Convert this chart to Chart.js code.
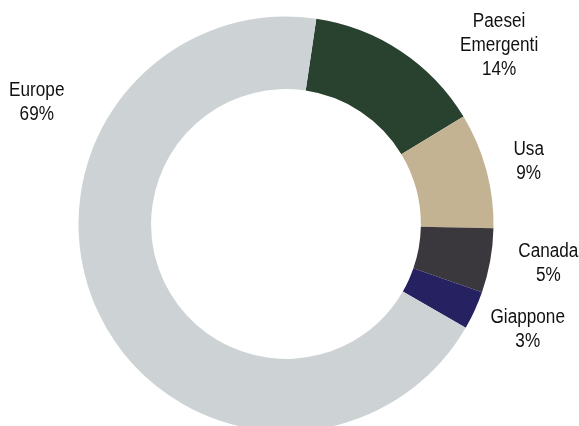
<!DOCTYPE html>
<html>
<head>
<meta charset="utf-8">
<script src="https://cdn.jsdelivr.net/npm/chart.js@4"></script>
<style>
  html, body { margin: 0; padding: 0; background: #fff; }
  #wrap { width: 579px; height: 426px; overflow: hidden; }
</style>
</head>
<body>
<div id="wrap"><canvas id="grafico" width="579" height="440"></canvas></div>
<script>
const categories = ['Paesei Emergenti', 'Usa', 'Canada', 'Giappone', 'Europe'];
const values = [14, 9, 5, 3, 69];
const labelLines = [['Paesei', 'Emergenti', '14%'], ['Usa', '9%'], ['Canada', '5%'], ['Giappone', '3%'], ['Europe', '69%']];
const colors = ['#29412f', '#c4b393', '#3a383d', '#262261', '#cdd3d5'];

// posizione delle etichette: angolo (gradi dall'alto) e distanza dal centro
const labelPos = [[49.8, 279], [75.2, 251], [98.2, 265], [113.2, 263], [296.3, 278]];

const fontFamily = "'Liberation Sans', Arial, sans-serif";

const labelPlugin = {
    id: 'etichette',
    afterDatasetsDraw(chart) {
        const ctx = chart.ctx;
        const arc = chart.getDatasetMeta(0).data[0];
        const cx = arc.x, cy = arc.y;
        const sx = 0.88; // font "condensed"
        ctx.save();
        ctx.font = '19.5px ' + fontFamily;
        ctx.fillStyle = '#111';
        ctx.textAlign = 'center';
        ctx.textBaseline = 'middle';
        labelLines.forEach((lines, i) => {
            const a = labelPos[i][0] * Math.PI / 180;
            const d = labelPos[i][1];
            const x = cx + Math.sin(a) * d;
            const y = cy - Math.cos(a) * d + 2;
            const lh = 24;
            const y0 = y - (lines.length - 1) * lh / 2;
            lines.forEach((t, j) => {
                ctx.save();
                ctx.translate(x, y0 + j * lh);
                ctx.scale(sx, 1);
                ctx.fillText(t, 0, 0);
                ctx.restore();
            });
        });
        ctx.restore();
    }
};

new Chart('grafico', {
    type: 'doughnut',
    data: {
        labels: categories,
        datasets: [{
            data: values,
            backgroundColor: colors,
            borderWidth: 0
        }]
    },
    options: {
        responsive: false,
        animation: false,
        rotation: 8.4,
        cutout: '65%',
        layout: { padding: { top: 16.5, bottom: 8.5, left: 0, right: 7 } },
        plugins: {
            legend: { display: false },
            tooltip: { enabled: false }
        }
    },
    plugins: [labelPlugin]
});
</script>
</body>
</html>
